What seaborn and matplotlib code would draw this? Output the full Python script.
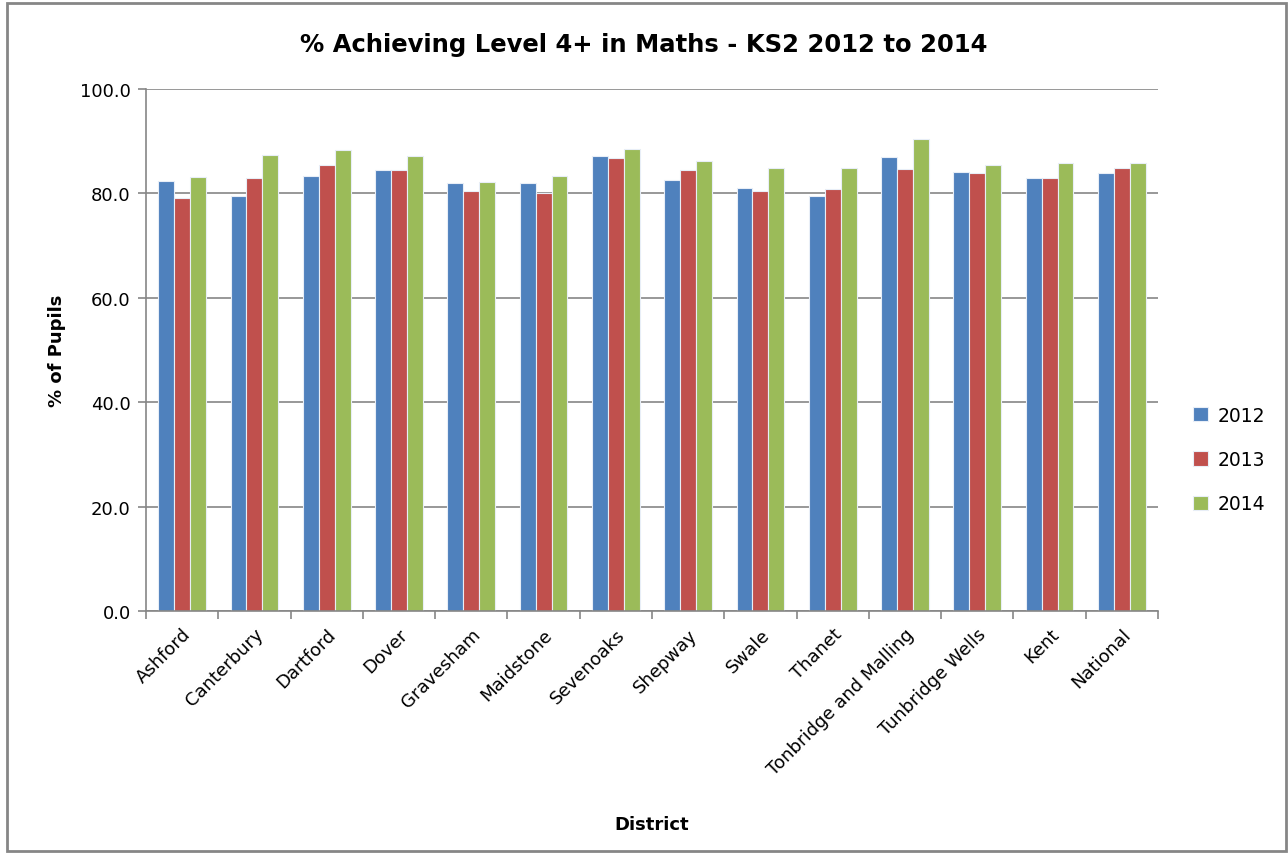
import pandas as pd
import numpy as np
import matplotlib.pyplot as plt
import seaborn as sns
from matplotlib.patches import Rectangle

# Data
districts = ['Ashford', 'Canterbury', 'Dartford', 'Dover', 'Gravesham', 'Maidstone',
             'Sevenoaks', 'Shepway', 'Swale', 'Thanet', 'Tonbridge and Malling',
             'Tunbridge Wells', 'Kent', 'National']
years = ['2012', '2013', '2014']
pct_2012 = [82.3, 79.5, 83.4, 84.4, 82.0, 82.0, 87.1, 82.6, 81.1, 79.5, 87.0, 84.1, 82.9, 83.9]
pct_2013 = [79.2, 82.9, 85.4, 84.5, 80.4, 80.0, 86.7, 84.4, 80.4, 80.8, 84.7, 83.9, 82.9, 84.9]
pct_2014 = [83.2, 87.3, 88.4, 87.1, 82.1, 83.3, 88.5, 86.3, 84.9, 84.9, 90.5, 85.5, 85.8, 85.8]
colors = ['#4F81BD', '#C0504D', '#9BBB59']

df = pd.DataFrame({
    'District': districts * 3,
    'Year': np.repeat(years, len(districts)),
    'Pct': pct_2012 + pct_2013 + pct_2014,
})

sns.set_style('white')
plt.rcParams['font.family'] = ['DejaVu Sans']
plt.rcParams['text.color'] = 'black'
plt.rcParams['axes.labelcolor'] = 'black'
plt.rcParams['xtick.color'] = 'black'
plt.rcParams['ytick.color'] = 'black'

fig = plt.figure(figsize=(12.88, 8.54), dpi=100)
ax = fig.add_axes([146 / 1288, 1 - 612 / 854, (1158 - 146) / 1288, (612 - 90) / 854])

sns.barplot(data=df, x='District', y='Pct', hue='Year', palette=colors, saturation=1,
            width=0.66, gap=0, edgecolor='#e8eef7', linewidth=0.8,
            errorbar=None, ax=ax)

grey = '#868686'
ax.set_ylim(0, 100)
ax.set_xlim(-0.5, len(districts) - 0.5)
ax.set_yticks(np.arange(0, 101, 20))
ax.set_yticklabels([f'{v:.1f}' for v in np.arange(0, 101, 20)], fontsize=13)
ax.yaxis.grid(True, color=grey, linewidth=1.2)
ax.set_axisbelow(True)

# x ticks between categories
ax.set_xticks(np.arange(len(districts)))
ax.set_xticklabels(districts, rotation=45, ha='right', rotation_mode='anchor', fontsize=13)
ax.tick_params(axis='x', which='major', bottom=True, length=0, pad=10)
ax.set_xticks(np.arange(-0.5, len(districts)), minor=True)
ax.tick_params(axis='x', which='minor', bottom=True, length=6, color=grey, width=1.2,
               direction='out')
ax.tick_params(axis='y', left=True, length=6, color=grey, width=1.2, direction='out', pad=5,
               labelcolor='black')

for side in ['top', 'right']:
    ax.spines[side].set_visible(False)
for side in ['left', 'bottom']:
    ax.spines[side].set_color(grey)
    ax.spines[side].set_linewidth(1.2)

ax.set_xlabel('District', fontsize=13, fontweight='bold', labelpad=0)
ax.xaxis.set_label_coords(0.5, -0.39)
ax.set_ylabel('% of Pupils', fontsize=13, fontweight='bold', labelpad=10)

fig.text(0.5, 1 - 45 / 854, '% Achieving Level 4+ in Maths - KS2 2012 to 2014',
         ha='center', va='center', fontsize=17.5, fontweight='bold', color='black')

leg = ax.legend(loc='center left', bbox_to_anchor=(1.018, 0.29), frameon=False,
                fontsize=13.5, handlelength=0.8, handleheight=0.8, labelspacing=1.35,
                handletextpad=0.5, title=None)

# outer chart border
fig.patches.append(Rectangle((7 / 1288, 2 / 854), 1 - 9 / 1288, 1 - 6 / 854,
                             transform=fig.transFigure, fill=False,
                             edgecolor=grey, linewidth=2))

fig.savefig('out.png', dpi=100)
